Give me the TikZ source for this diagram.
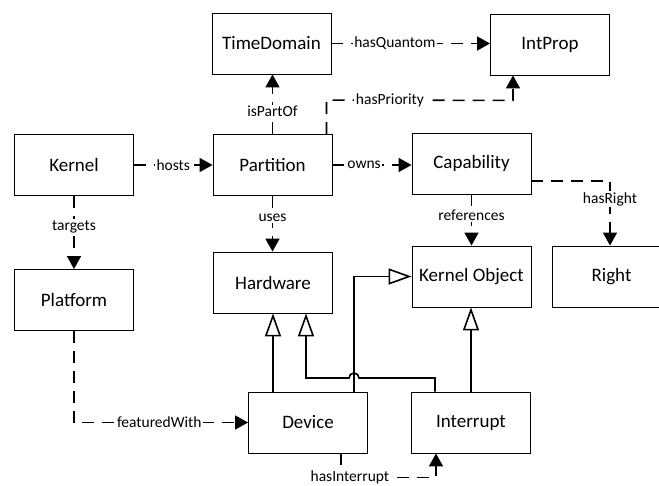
\documentclass[tikz,border=0pt]{standalone}
\usepackage{fontspec}
\setmainfont{Carlito}
\usetikzlibrary{arrows.meta,calc}
\begin{document}
\begin{tikzpicture}[x=1pt,y=1pt,
  box/.style={draw, line width=0.9pt, minimum width=119pt, minimum height=61pt, inner sep=0pt, font=\fontsize{19}{22}\selectfont},
  conn/.style={line width=1.6pt, dash pattern=on 12pt off 8pt, -{Triangle[length=13pt,width=14pt]}},
  inh/.style={line width=1.6pt, -{Triangle[open,length=23pt,width=16pt,line width=1.6pt]}},
  lbl/.style={fill=white, inner sep=1.5pt, font=\fontsize{15.5}{18}\selectfont}]
\useasboundingbox (0,0) rectangle (659,486);
\fill[white] (0,0) rectangle (659,486);
\clip (0,0) rectangle (659,486);
% nodes
\node[box] (td) at (271.5,442.5) {TimeDomain};
\node[box] (ip) at (550,441.5) {IntProp};
\node[box] (ke) at (74,321) {Kernel};
\node[box] (pa) at (272.5,321) {Partition};
\node[box] (ca) at (471.5,322.5) {Capability};
\node[box] (pl) at (74,186) {Platform};
\node[box] (hw) at (273,203.5) {Hardware};
\node[box] (ko) at (471.5,209.5) {Kernel Object};
\node[box] (ri) at (611.5,209.5) {Right};
\node[box] (de) at (308,63.5) {Device};
\node[box] (in) at (471,63.5) {Interrupt};
% associations
\draw[conn] (td.east) -- node[lbl,pos=0.4]{hasQuantom} (td.east -| ip.west);
\draw[conn] (pa.north) -- node[lbl,pos=0.38]{isPartOf} (pa.north |- td.south);
\draw[conn] ($(pa.north)+(54,0)$) -- ++(0,34) -- node[lbl,pos=0.34]{hasPriority} ($(ip.south)+(-37,-25)$) -- ($(ip.south)+(-37,0)$);
\draw[conn] (ke.east) -- node[lbl]{hosts} (pa.west);
\draw[conn] (pa.east) -- node[lbl,pos=0.4]{owns} (pa.east -| ca.west);
\draw[conn] (ke.south) -- node[lbl,pos=0.42]{targets} (pl.north);
\draw[conn] (pa.south) -- node[lbl,pos=0.4]{uses} (pa.south |- hw.north);
\draw[conn] (ca.south) -- node[lbl,pos=0.4]{references} (ko.north);
\draw[conn] ($(ca.east)+(0,-17.5)$) -| node[lbl,pos=0.64]{hasRight} ($(ri.north)+(-1.5,0)$);
\draw[conn] (pl.south) |- node[lbl,pos=0.745]{featuredWith} (de.west);
\draw[conn] ($(de.south)+(33,0)$) -- ++(0,-24) -| node[lbl,pos=0.047]{hasInterrupt} ($(in.south)+(-35,0)$);
% inheritance
\coordinate (hop) at (359,108);
\draw[inh] (de.north -| hw.south) -- (hw.south);
\draw[inh] ($(in.north)+(-36,0)$) |- (hop) arc[start angle=0,end angle=180,radius=5] -| ($(hw.south)+(33,0)$);
\draw[inh] ($(de.north)+(46,0)$) |- (ko.west);
\draw[inh] (in.north) -- (in.north |- ko.south);
\end{tikzpicture}
\end{document}
